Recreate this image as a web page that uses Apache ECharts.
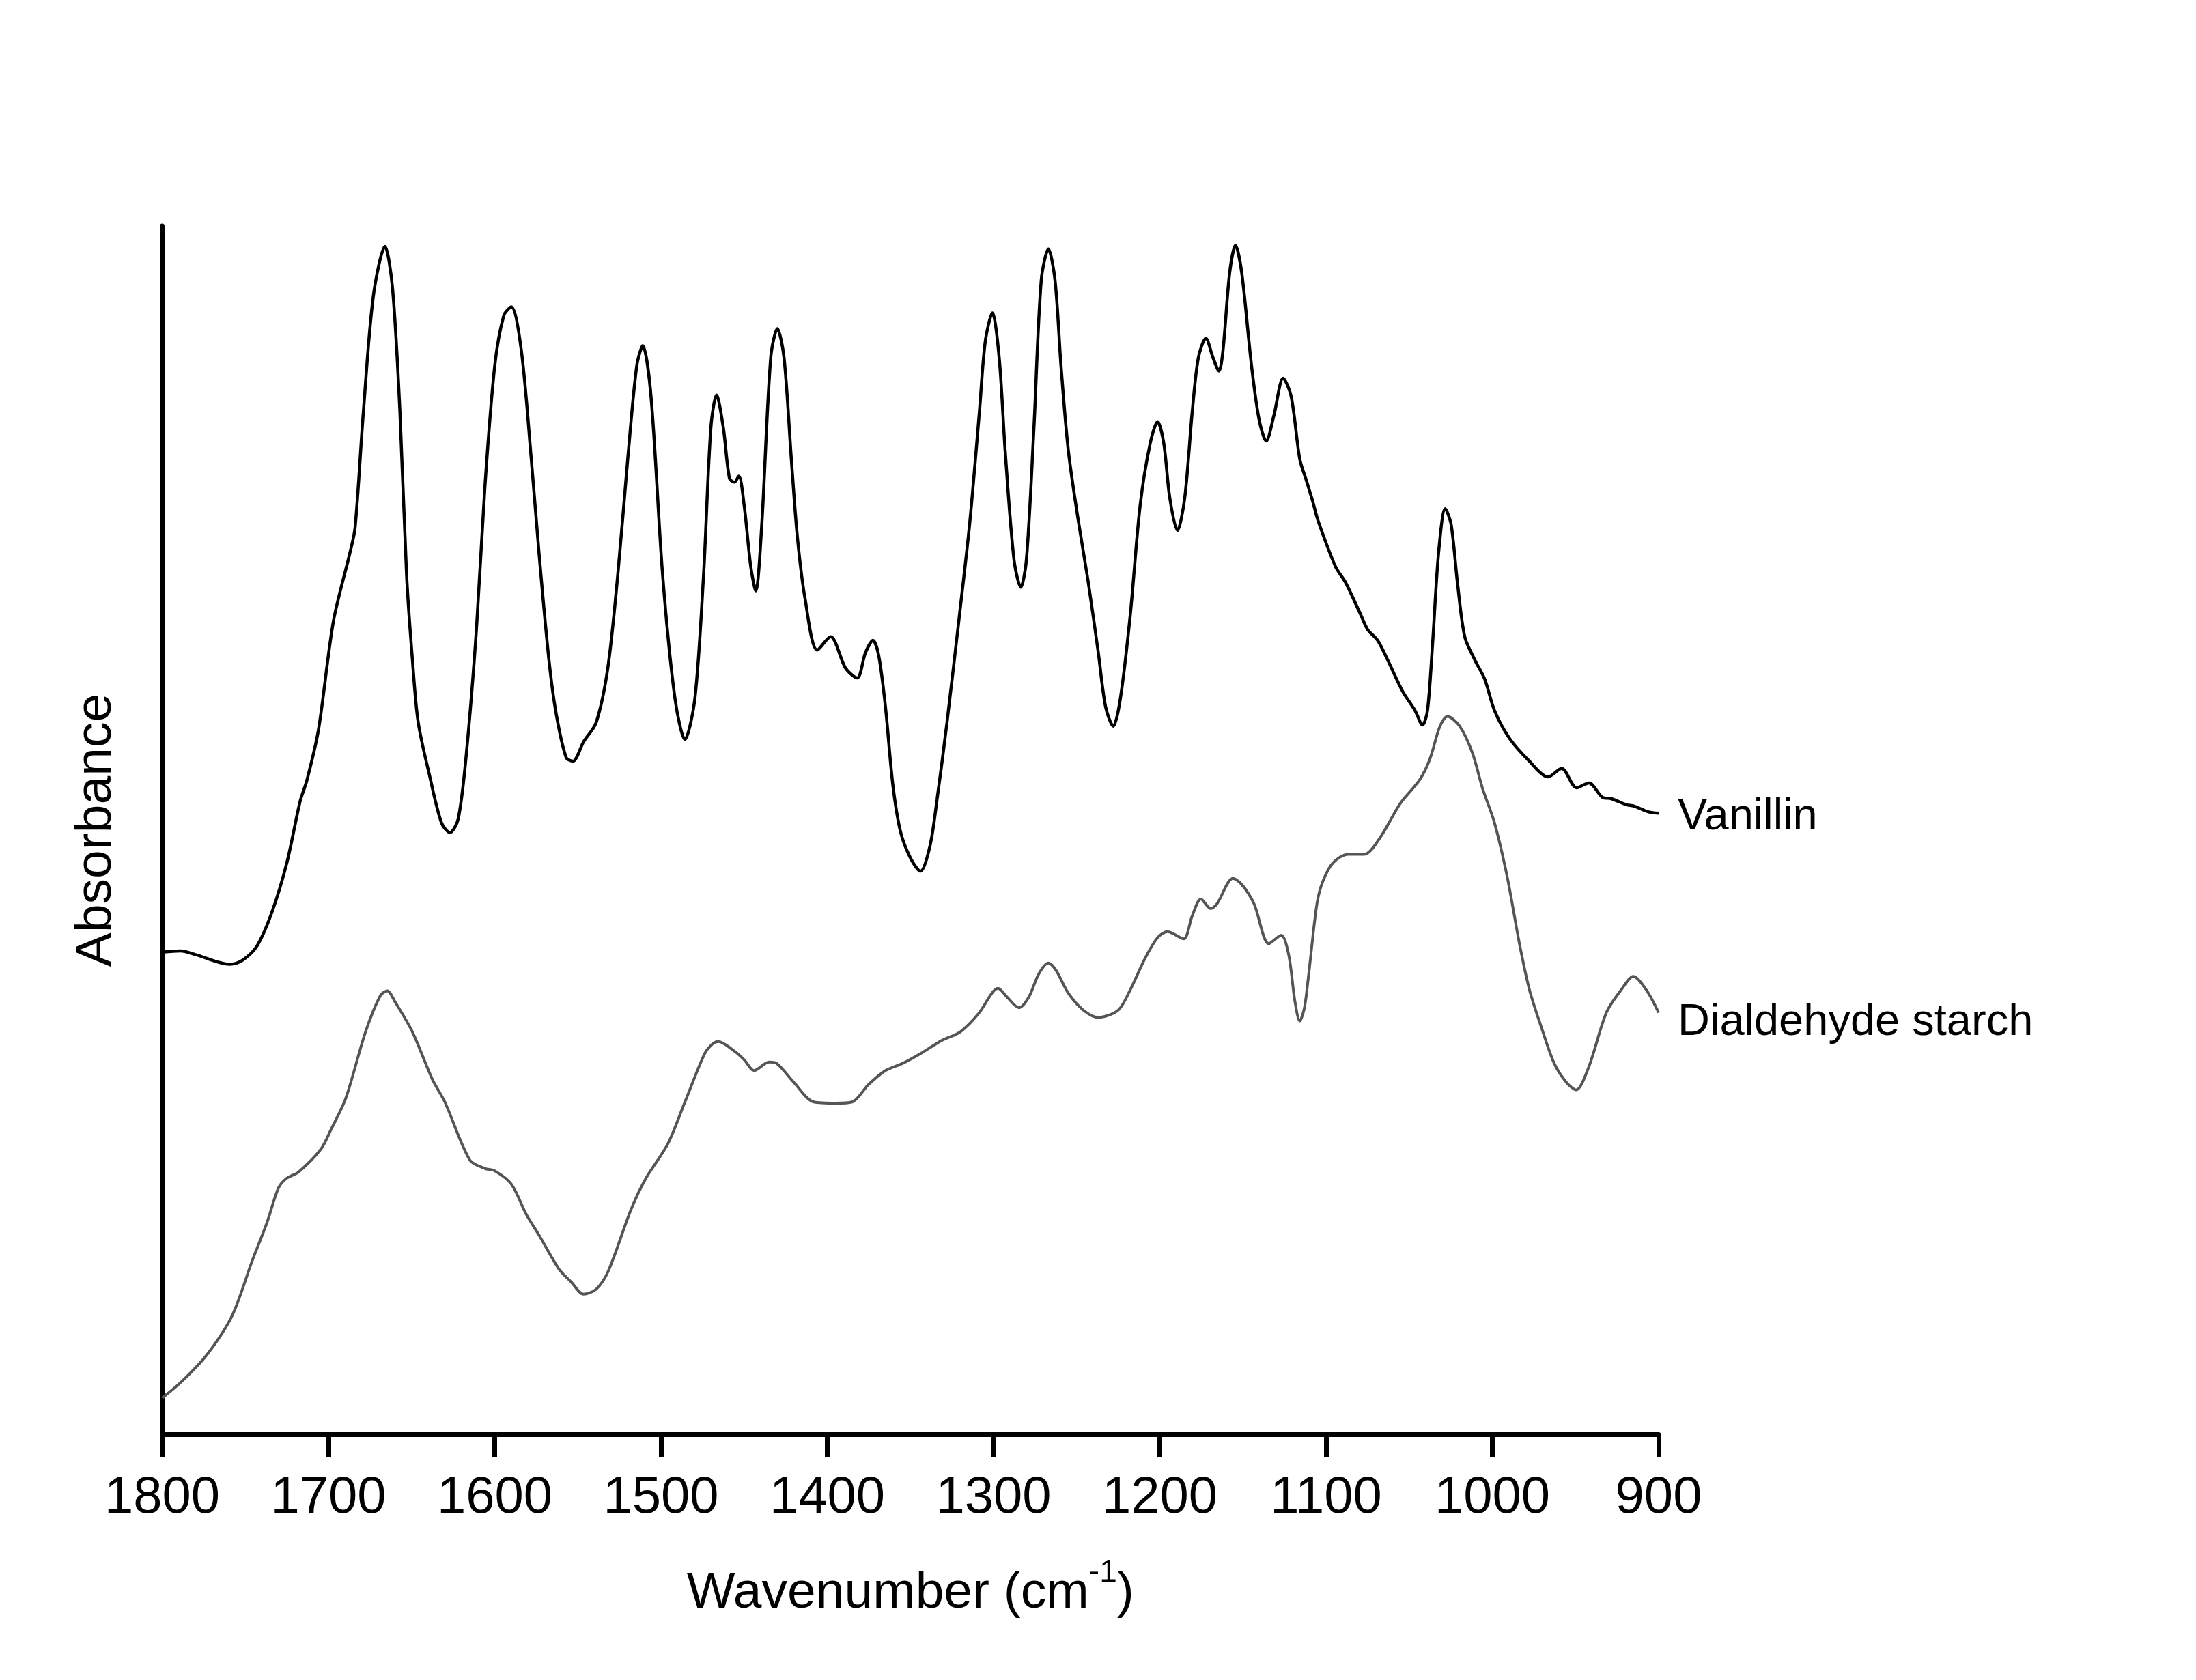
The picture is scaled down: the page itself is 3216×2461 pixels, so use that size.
<!DOCTYPE html>
<html>
<head>
<meta charset="utf-8">
<script src="https://cdn.jsdelivr.net/npm/echarts@6/dist/echarts.min.js"></script>
<style>
html,body{margin:0;padding:0;background:#fff;}
#chart{width:3216px;height:2461px;}
</style>
</head>
<body>
<div id="chart"></div>
<script>
// Vanillin spectrum (wavenumber cm-1, relative absorbance)
const vanillinWn = [1800,1789,1780,1759.5,1752,1743,1734,1725,1717,1713,1706,1697,1687,1684,1679,1673,1666,1661.5,1657,1653,1649.5,1646,1639,1632,1627,1622,1617,1611,1606,1600,1594.5,1590,1584,1578,1573.4,1567.4,1563,1557,1553,1546.6,1539,1532,1526,1520,1514.6,1511,1506,1499,1491.6,1485.6,1479.6,1474.4,1470,1466.6,1462.5,1458.8,1455.8,1453.2,1450,1446,1443,1439.5,1434,1430,1426,1421.6,1418,1413.4,1406,1398,1389,1382,1377,1372.5,1369,1365,1360.6,1356,1350,1344,1338.2,1334,1328,1320.4,1314.4,1308.5,1305,1300.7,1296.6,1293,1287.7,1283.6,1280.2,1275.7,1271.3,1267,1263,1259.4,1255,1249,1243,1237,1232.6,1228,1223.7,1217.7,1211.8,1205.8,1201.3,1197.6,1194,1189.4,1185,1180.5,1176.8,1172.3,1168,1164.4,1162,1158,1154.5,1150.7,1144.8,1140.3,1136,1131.4,1125.8,1121,1115.8,1112,1108,1104.8,1094.3,1088.3,1079.4,1075,1069,1063,1054,1046.5,1042,1039,1036,1032.3,1028.3,1024.8,1021,1016.6,1010.6,1004.6,998.7,989.7,977.7,966.5,958.3,949.3,941.9,933.6,928.4,919.4,915,906,900];
const vanillinAbs = [39.9,40.0,39.7,38.9,39.2,40.4,43.2,47.3,52.4,54.1,58.3,67.3,73.0,75.0,84.6,94.2,98.3,94.9,84.6,71.1,64.1,58.9,54.4,50.6,49.8,50.9,56.4,66.6,78.2,88.4,92.6,93.3,89.7,80.7,73.0,64.1,59.6,56.0,55.7,57.3,58.9,63.4,71.1,80.7,88.4,90.1,85.9,71.1,60.9,57.5,60.9,71.1,83.3,86.0,83.3,79.1,78.8,79.3,76.9,71.8,69.8,75.0,89.1,91.5,89.1,80.7,74.3,69.2,64.9,66.0,63.4,62.6,64.7,65.7,64.4,60.2,53.8,49.9,47.7,46.6,48.7,52.5,58.9,67.9,75.3,84.6,90.4,92.8,89.1,81.4,72.4,70.1,72.4,83.3,95.5,98.1,95.5,88.4,81.4,75.6,70.5,64.7,60.2,58.6,60.9,67.9,76.9,82.0,83.8,82.0,77.5,74.8,77.5,84.6,89.1,90.7,89.1,88.0,89.7,96.1,98.4,96.1,88.4,84.0,82.2,84.3,87.4,85.9,80.7,79.0,77.2,75.6,71.8,70.5,67.9,66.6,65.7,64.1,61.5,59.9,58.7,59.9,65.3,73.0,76.6,75.3,70.5,66.0,64.1,62.5,59.9,57.6,55.7,54.4,55.1,53.5,53.9,52.7,52.6,52.1,52.0,51.5,51.4];

// Dialdehyde starch spectrum
const starchWn = [1800,1788,1773,1758,1746,1737,1730,1725,1718,1704.5,1698.5,1689.6,1677.7,1668.8,1664.6,1660,1649.5,1637.6,1630,1615,1606,1600,1590,1581,1573,1561.5,1554,1546.6,1539,1531.7,1518,1509,1496,1485.6,1473.7,1469,1465.5,1455.8,1450,1444,1435,1430.5,1420,1408,1395,1385,1375.5,1365,1354.6,1344,1331,1320,1308.5,1301,1297.3,1292,1284.7,1278.7,1272.8,1267,1262.4,1255,1246,1237,1225,1217.7,1208.8,1201.3,1195.4,1185.7,1180.5,1175.3,1169.3,1165.6,1156,1150.7,1143.3,1134.4,1127,1122.5,1118.7,1115.8,1113,1110.5,1105.5,1101.8,1095.8,1086.8,1077,1067.4,1055.4,1043.5,1037.5,1031.5,1027,1019.6,1012,1006,998.7,991,983.7,977.7,970.3,962.8,955.3,949.6,942,931.4,922.4,915.2,907.5,900];
const starchAbs = [3.0,4.4,6.6,9.8,14.3,17.5,20.4,21.2,21.7,23.6,25.2,27.8,33.3,36.3,36.7,35.8,33.3,29.4,27.5,22.7,22.0,21.8,20.7,18.2,16.4,13.7,12.6,11.6,12.0,13.5,18.6,21.2,24.0,27.5,31.5,32.3,32.5,31.7,31.0,30.1,30.8,30.7,29.1,27.5,27.4,27.5,28.9,30.1,30.7,31.5,32.6,33.3,34.9,36.5,36.9,36.2,35.3,36.2,38.1,39.0,38.4,36.5,35.1,34.5,35.1,36.8,39.4,41.1,41.6,41.0,42.9,44.3,43.5,43.9,46.0,45.5,43.9,40.6,41.3,39.7,35.8,34.2,35.3,38.0,43.9,45.8,47.3,48.0,48.0,49.4,52.2,54.2,55.9,58.6,59.4,58.6,56.4,53.5,50.6,46.1,40.6,36.8,33.6,30.7,29.1,28.5,30.4,34.9,36.8,37.9,36.8,34.9];

const xTickMin = 900, xTickMax = 1800, xTickStep = 100;
const seriesNames = ['Vanillin', 'Dialdehyde starch'];

const FONT = 'Liberation Sans, Arial, Helvetica, sans-serif';
const chart = echarts.init(document.getElementById('chart'), null, {renderer: 'canvas'});

function pairs(xs, ys) { return xs.map((x, i) => [x, ys[i]]); }

const endLabelCfg = (dy) => ({
  show: true,
  formatter: '{a}',
  align: 'left',
  distance: 0,
  offset: [28, dy],
  fontSize: 65,
  fontFamily: FONT,
  color: '#000'
});

chart.setOption({
  animation: false,
  backgroundColor: '#fff',
  grid: {left: 237.5, right: 787, top: 331, bottom: 360, containLabel: false},
  xAxis: {
    type: 'value',
    min: xTickMin, max: xTickMax, interval: xTickStep,
    inverse: true,
    name: 'Wavenumber (cm{sup|-1})',
    nameLocation: 'middle',
    nameGap: 180,
    nameTextStyle: {
      fontSize: 75, fontFamily: FONT, color: '#000',
      rich: {sup: {fontSize: 46, fontFamily: FONT, color: '#000', verticalAlign: 'bottom', padding: [0, 0, 60, 0]}}
    },
    axisLine: {show: true, onZero: false, lineStyle: {color: '#000', width: 7}},
    axisTick: {show: true, inside: false, length: 34, lineStyle: {color: '#000', width: 7}},
    axisLabel: {show: true, margin: 56, fontSize: 76, fontFamily: FONT, color: '#000', formatter: (v) => String(v)},
    splitLine: {show: false}
  },
  yAxis: {
    type: 'value',
    min: 0, max: 100,
    name: 'Absorbance',
    nameLocation: 'middle',
    nameGap: 59,
    nameTextStyle: {fontSize: 75, fontFamily: FONT, color: '#000'},
    axisLine: {show: true, onZero: false, lineStyle: {color: '#000', width: 7}},
    axisTick: {show: false},
    axisLabel: {show: false},
    splitLine: {show: false}
  },
  series: [
    {
      name: seriesNames[0], type: 'line', data: pairs(vanillinWn, vanillinAbs),
      showSymbol: false, symbol: 'none', smooth: 0.3,
      lineStyle: {color: '#000', width: 4.5},
      endLabel: endLabelCfg(6)
    },
    {
      name: seriesNames[1], type: 'line', data: pairs(starchWn, starchAbs),
      showSymbol: false, symbol: 'none', smooth: 0.3,
      lineStyle: {color: '#555', width: 4},
      endLabel: endLabelCfg(15)
    }
  ]
});
</script>
</body>
</html>
